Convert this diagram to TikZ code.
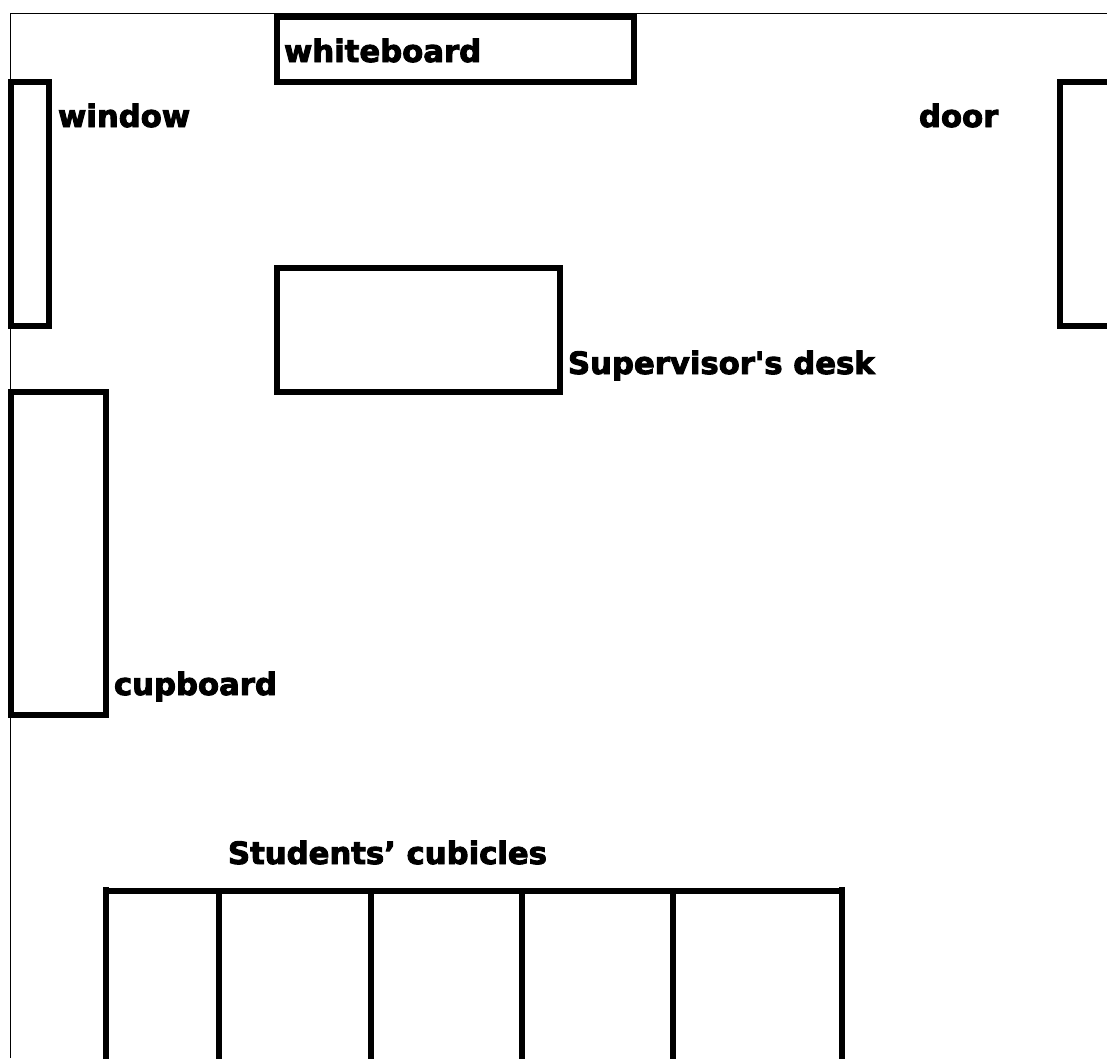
\documentclass[tikz,border=0pt]{standalone}
\usepackage{fontspec}
\newfontfamily\planfont[FakeBold=3]{DejaVu Sans Bold}
\usetikzlibrary{positioning}

\begin{document}
\begin{tikzpicture}[x=1pt,y=-1pt]
\tikzset{
wall/.style = {line width=1.5pt},
furniture/.style = {line width=6.4pt, miter limit=10},
label/.style = {anchor=base west,
                inner sep=0pt,
                outer sep=0pt,
                font=\planfont\fontsize{30.7}{30.7}\selectfont}
}
\useasboundingbox (0,0) rectangle (1107,1058);

% room outline
\draw[wall] (10.5,1058) -- (10.5,13.5) -- (1107,13.5);

% furniture
\draw[furniture] (277,17) rectangle (634,82);
\draw[furniture] (11,82) rectangle (49,326);
\draw[furniture] (1112,82) -- (1060,82) -- (1060,326) -- (1112,326);
\draw[furniture] (277,268) rectangle (560,392);
\draw[furniture] (11,392) rectangle (106,715);

% cubicles
\draw[furniture] (106,891) -- (842,891);
\draw[furniture] (106,887) -- (106,1062);
\draw[furniture] (842,887) -- (842,1062);
\foreach \x in {219,371,522,673}
  \draw[furniture] (\x,891) -- (\x,1062);

\node[label] at (284,62) (whiteboard) {whiteboard};
\node[label] at (58,127) (window) {window};
\node[label] at (919,127) (door) {door};
\node[label] at (568,374) (desk) {Supervisor's desk};
\node[label] at (114,695) (cupboard) {cupboard};
\node[label] at (228,864) (cubicles) {Students’ cubicles};
\end{tikzpicture}
\end{document}
